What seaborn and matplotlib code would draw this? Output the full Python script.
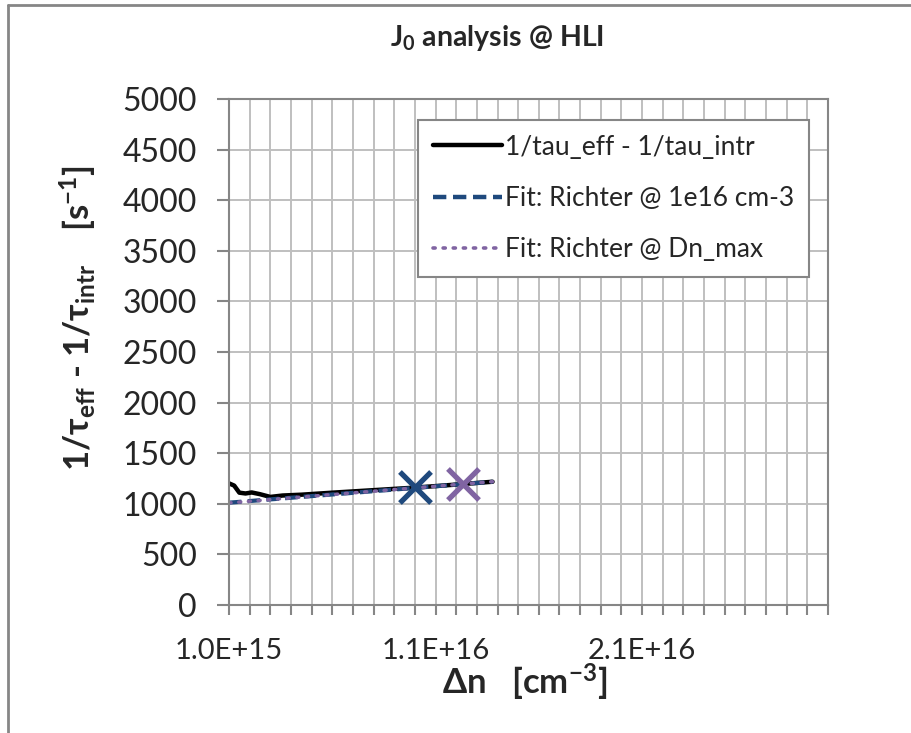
import seaborn as sns
import matplotlib.pyplot as plt
from matplotlib.ticker import MultipleLocator
from matplotlib.lines import Line2D

# measured curve 1/tau_eff - 1/tau_intr
dn_meas = [1.00e15, 1.25e15, 1.5e15, 1.8e15, 2.1e15, 2.5e15, 3.0e15, 3.6e15,
           4.5e15, 6.0e15, 8.0e15, 1.0e16, 1.2e16, 1.376e16]
inv_tau_meas = [1202, 1180, 1110, 1102, 1112, 1095, 1068, 1082,
                1090, 1110, 1135, 1160, 1190, 1218]

# Richter fits (both nearly identical)
dn_fit = [1.0e15, 5.0e15, 1.0e16, 1.376e16]
inv_tau_fit_1e16 = [1011, 1076, 1157, 1218]
inv_tau_fit_max = [1009, 1075, 1157, 1219]

# fit points
pt_1e16 = (1.0e16, 1163)
pt_max = (1.231e16, 1193)

xtick_pos = [1.0e15, 1.1e16, 2.1e16]
xtick_labels = ['1.0E+15', '1.1E+16', '2.1E+16']
ytick_pos = list(range(0, 5001, 500))

blue = '#1F497D'
purple = '#8064A2'
grid_col = '#BFBFBF'
axis_col = '#868686'

sns.set_style('white')
plt.rcParams['font.family'] = ['Lato', 'DejaVu Sans']
plt.rcParams['mathtext.fontset'] = 'custom'
plt.rcParams['mathtext.rm'] = 'Lato'
plt.rcParams['mathtext.bf'] = 'Lato:bold'
plt.rcParams['mathtext.it'] = 'Lato:italic'
plt.rcParams['mathtext.fallback'] = 'stixsans'

fig = plt.figure(figsize=(9.12, 7.33), dpi=100)
ax = fig.add_axes([229 / 912, 128 / 733, 599 / 912, 506 / 733])

sns.lineplot(x=dn_meas, y=inv_tau_meas, ax=ax, color='black', linewidth=3.2,
             sort=False, label='1/tau_eff - 1/tau_intr')
sns.lineplot(x=dn_fit, y=inv_tau_fit_1e16, ax=ax, color=blue, linewidth=3,
             linestyle=(0, (3, 1.5)), label='Fit: Richter @ 1e16 cm-3')
sns.lineplot(x=dn_fit, y=inv_tau_fit_max, ax=ax, color=purple, linewidth=2.5,
             linestyle=(0, (0.6, 2.2)), dash_capstyle='round',
             label='Fit: Richter @ Dn_max')
sns.scatterplot(x=[pt_1e16[0]], y=[pt_1e16[1]], ax=ax, marker='x', s=500,
                color=blue, linewidth=3.8, legend=False, zorder=5)
sns.scatterplot(x=[pt_max[0]], y=[pt_max[1]], ax=ax, marker='x', s=500,
                color=purple, linewidth=3.8, legend=False, zorder=5)

ax.set_xlim(1.0e15, 3.0e16)
ax.set_ylim(0, 5000)
ax.set_xticks(xtick_pos)
ax.set_xticklabels(xtick_labels)
ax.xaxis.set_minor_locator(MultipleLocator(1e15))
ax.set_yticks(ytick_pos)
ax.set_yticklabels([str(v) for v in ytick_pos])

ax.grid(True, which='both', axis='x', color=grid_col, linewidth=1.4)
ax.grid(True, which='major', axis='y', color=grid_col, linewidth=1.4)
ax.set_axisbelow(True)
for s in ax.spines.values():
    s.set_color(axis_col)
    s.set_linewidth(1.5)

ax.tick_params(axis='x', which='major', direction='out', length=7, width=1.5,
               color=axis_col, labelsize=21, pad=17, bottom=True)
ax.tick_params(axis='x', which='minor', direction='out', length=7, width=1.5,
               color=axis_col, bottom=True)
ax.tick_params(axis='y', direction='out', length=9, width=1.5,
               color=axis_col, labelsize=23, pad=14, left=True)
ax.set_xlabel('')
ax.set_ylabel('')

handles = [
    Line2D([], [], color='black', linewidth=3.2),
    Line2D([], [], color=blue, linewidth=3.2, linestyle=(0, (3, 1.5))),
    Line2D([], [], color=purple, linewidth=2.6, linestyle=(0, (0.6, 2.2)),
           dash_capstyle='round'),
]
labels = ['1/tau_eff - 1/tau_intr', 'Fit: Richter @ 1e16 cm-3',
          'Fit: Richter @ Dn_max']
leg = ax.legend(handles, labels, loc='upper left',
                bbox_to_anchor=((418 - 229) / 599, (605 - 120) / 506),
                fontsize=19, frameon=True, fancybox=False, framealpha=1,
                edgecolor=axis_col, handlelength=2.65, handletextpad=0.1,
                labelspacing=1.0, borderpad=0.55, borderaxespad=0)
leg.get_frame().set_linewidth(1.5)

fig.text(497 / 912, 1 - 38 / 733, r'$\mathbf{J_0}$ analysis @ HLI',
         ha='center', va='center', fontsize=20.5, fontweight='bold')
fig.text(525 / 912, 1 - 682 / 733,
         r'$\mathbf{\Delta n}$   [cm$^{\mathbf{-3}}$]',
         ha='center', va='center', fontsize=25, fontweight='bold')
fig.text(78 / 912, 1 - 318 / 733,
         r'$\mathbf{1/\tau_{eff}}$ - $\mathbf{1/\tau_{intr}}$    '
         r'[s$^{\mathbf{-1}}$]',
         ha='center', va='center', rotation=90, fontsize=25,
         fontweight='bold')

# chart frame (left and top edges visible)
fig.add_artist(Line2D([8 / 912, 8 / 912], [0, 1 - 5 / 733],
                      transform=fig.transFigure, color=axis_col, linewidth=2))
fig.add_artist(Line2D([8 / 912, 1], [1 - 5 / 733, 1 - 5 / 733],
                      transform=fig.transFigure, color=axis_col, linewidth=2))

fig.savefig('out.png', dpi=100)
